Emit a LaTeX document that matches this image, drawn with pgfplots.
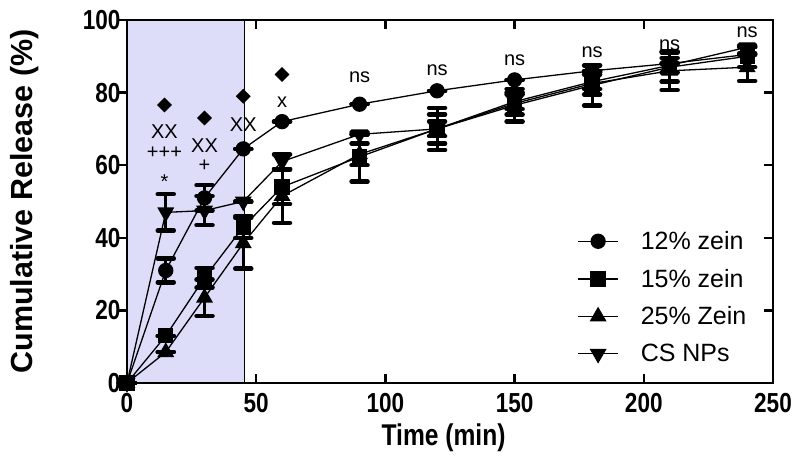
\documentclass[border=0pt]{standalone}
\usepackage{pgfplots}
\pgfplotsset{compat=1.18}
\usepackage{fontspec}
\setmainfont{Liberation Sans}
\newfontfamily\narrowfont[FakeStretch=0.82]{Liberation Sans}
\definecolor{shade}{RGB}{221,221,250}

\pgfplotstableread{
t v e
0 0 0
15 31 3.3
30 51 3.5
45 64.5 0
60 72 0
90 76.8 0
120 80.5 0
150 83.5 0
180 86 0
210 88 0
240 90.5 0
}\twelve
\pgfplotstableread{
t v e
0 0 0
15 13 0
30 29 2.7
45 43 3
60 54 4.7
90 62.3 6.8
120 70 5.8
150 76.5 4.5
180 82 5.5
210 87 4
240 90 3
}\fifteen
\pgfplotstableread{
t v e
0 0 0
15 8.5 0
30 23.5 5
45 38.5 7
60 51.5 7.4
90 63 3
120 70 4
150 77 3
180 82.5 3
210 86 5.3
240 87 3.8
}\twentyfive
\pgfplotstableread{
t v e
0 0 0
15 47 5
30 47.5 4
45 50 0
60 61 2
90 68.5 0
120 70 2
150 77.5 2
180 83 2
210 87.5 2
240 92.5 0
}\csnp

\begin{document}
\begin{tikzpicture}
\useasboundingbox (-127pt,-85pt) rectangle (673pt,383pt);
\pgfplotsset{
  ebar/.style={draw=none, mark=none, forget plot,
    error bars/.cd, y dir=both, y explicit,
    error bar style={line width=3pt, black},
    error mark options={rotate=90, mark size=8pt, line width=4.5pt, line cap=round, black}},
  ser/.style={black, line width=1.3pt, mark options={solid, fill=black}},
}
\begin{axis}[
  at={(0,0)}, anchor=south west,
  scale only axis, width=646pt, height=363pt,
  xmin=0, xmax=250, ymin=0, ymax=100,
  xtick={0,50,...,250}, ytick={0,20,...,100},
  clip=false, axis on top,
  axis line style={line width=2.5pt},
  tick align=inside,
  ytick pos=right, yticklabel pos=left,
  major tick length=9pt,
  tick style={line width=2.5pt, black},
  /pgf/number format/assume math mode=true,
  tick label style={font=\narrowfont\bfseries\fontsize{27.5}{27.5}\selectfont},
  xticklabel style={yshift=-7pt},
  yticklabel style={xshift=-3pt},
  xlabel={Time (min)}, ylabel={Cumulative Release (\%)},
  every axis x label/.style={at={(axis description cs:0.49,-0.1515)}, anchor=center, font=\narrowfont\bfseries\fontsize{30}{30}\selectfont},
  every axis y label/.style={at={(axis description cs:-0.159,0.5)}, rotate=90, anchor=center, font=\bfseries\fontsize{30.5}{30.5}\selectfont},
  legend style={at={(0.697,0.418)}, anchor=north west, draw=none, fill=none,
    font=\fontsize{25}{25}\selectfont, row sep=18pt, inner sep=0pt,
    nodes={inner sep=0pt}},
  legend cell align=left,
  legend image code/.code={\draw[mark repeat=2,mark phase=2] plot coordinates {(0pt,0pt) (20pt,0pt) (40pt,0pt)};\path (62pt,0pt);},
]
\addplot[fill=shade, draw=none, forget plot] coordinates {(0,0) (0,100) (45.5,100) (45.5,0)} \closedcycle;
\addplot[black, line width=1.2pt, forget plot] coordinates {(45.5,0) (45.5,100)};

\addplot[ebar] table[x=t, y=v, y error=e] {\twelve};
\addplot[ebar] table[x=t, y=v, y error=e] {\fifteen};
\addplot[ebar] table[x=t, y=v, y error=e] {\twentyfive};
\addplot[ebar] table[x=t, y=v, y error=e] {\csnp};

\addplot[ser, mark=*, mark size=7pt] table[x=t, y=v] {\twelve};
\addlegendentry{12\% zein}
\addplot[ser, mark=square*, mark size=7pt] table[x=t, y=v] {\fifteen};
\addlegendentry{15\% zein}
\addplot[ser, mark=triangle*, mark size=8.5pt] table[x=t, y=v] {\twentyfive};
\addlegendentry{25\% Zein}
\addplot[ser, mark=triangle*, mark size=8.5pt, mark options={rotate=180}] table[x=t, y=v] {\csnp};
\addlegendentry{CS NPs}

\addplot[only marks, black, mark=square*, mark size=5pt, mark options={rotate=45, fill=black}, forget plot]
  coordinates {(14.5,76.6) (30,73) (45,79) (60,85)};

\begin{scope}[every node/.style={font=\fontsize{20}{20}\selectfont, inner sep=0pt}]
\node at (axis cs:14.5,69.3) {XX};
\node at (axis cs:14.5,63.4) {+++};
\node at (axis cs:14.5,55.5) {*};
\node at (axis cs:30,65.3) {XX};
\node at (axis cs:30,59.8) {+};
\node at (axis cs:45,71.2) {XX};
\node at (axis cs:60,77.3) {x};
\node at (axis cs:90,84.2) {ns};
\node at (axis cs:120,86.2) {ns};
\node at (axis cs:150,88.8) {ns};
\node at (axis cs:180,91) {ns};
\node at (axis cs:210,93) {ns};
\node at (axis cs:240,96.6) {ns};
\end{scope}
\end{axis}
\begin{axis}[
  at={(0,0)}, anchor=south west,
  scale only axis, width=646pt, height=363pt,
  xmin=0, xmax=250, ymin=0, ymax=100,
  hide x axis, axis y line*=left,
  ytick={0,20,...,100}, yticklabels={},
  tick align=outside, major tick length=9pt,
  axis line style={draw=none},
  tick style={line width=2.5pt, black},
]
\end{axis}
\end{tikzpicture}
\end{document}
